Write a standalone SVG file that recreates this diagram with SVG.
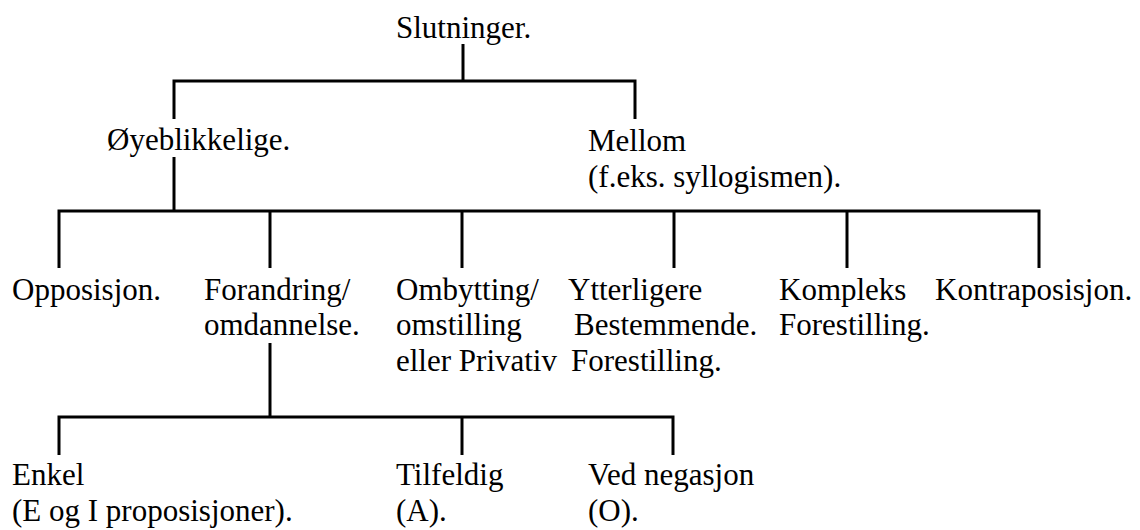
<svg xmlns="http://www.w3.org/2000/svg" width="1140" height="530" viewBox="0 0 1140 530">
  <style>
    .lbl { font-family: 'Liberation Serif', 'Times New Roman', Times, serif; font-size: 31px; fill: #000; }
    .wire { fill: none; stroke: #000; stroke-width: 3; stroke-linejoin: miter; stroke-linecap: butt; }
  </style>
  <rect width="1140" height="530" fill="#fff"/>

  <!-- tree connectors -->
  <g id="connectors">
    <path class="wire" d="M463 44 V81"/>
    <path class="wire" d="M174 119 V81 H635 V119"/>
    <path class="wire" d="M174 157 V211"/>
    <path class="wire" d="M59 268 V211 H1039 V268"/>
    <path class="wire" d="M270 211 V268"/>
    <path class="wire" d="M462 211 V268"/>
    <path class="wire" d="M674 211 V268"/>
    <path class="wire" d="M847 211 V268"/>
    <path class="wire" d="M270 343 V417"/>
    <path class="wire" d="M59 455 V417 H673 V455"/>
    <path class="wire" d="M462 417 V455"/>
  </g>

  <g class="lbl" font-family="Liberation Serif, serif">
    <g id="slutninger"><text x="396" y="38">Slutninger.</text></g>
    <g id="oyeblikkelige"><text x="107" y="150">Øyeblikkelige.</text></g>
    <g id="mellom">
      <text x="588" y="151">Mellom</text>
      <text x="588" y="187">(f.eks. syllogismen).</text>
    </g>

    <g id="opposisjon"><text x="12" y="300">Opposisjon.</text></g>
    <g id="forandring">
      <text x="204" y="300">Forandring/</text>
      <text x="204" y="335">omdannelse.</text>
    </g>
    <g id="ombytting">
      <text x="396" y="300">Ombytting/</text>
      <text x="396" y="335">omstilling</text>
      <text x="396" y="371">eller Privativ</text>
    </g>
    <g id="ytterligere">
      <text x="568" y="300">Ytterligere</text>
      <text x="574" y="335">Bestemmende.</text>
      <text x="571" y="371">Forestilling.</text>
    </g>
    <g id="kompleks">
      <text x="779" y="300">Kompleks</text>
      <text x="779" y="335">Forestilling.</text>
    </g>
    <g id="kontraposisjon"><text x="935" y="300">Kontraposisjon.</text></g>

    <g id="enkel">
      <text x="12" y="485">Enkel</text>
      <text x="12" y="521">(E og I proposisjoner).</text>
    </g>
    <g id="tilfeldig">
      <text x="396" y="485">Tilfeldig</text>
      <text x="396" y="521">(A).</text>
    </g>
    <g id="ved-negasjon">
      <text x="588" y="485">Ved negasjon</text>
      <text x="588" y="521">(O).</text>
    </g>
  </g>
</svg>
